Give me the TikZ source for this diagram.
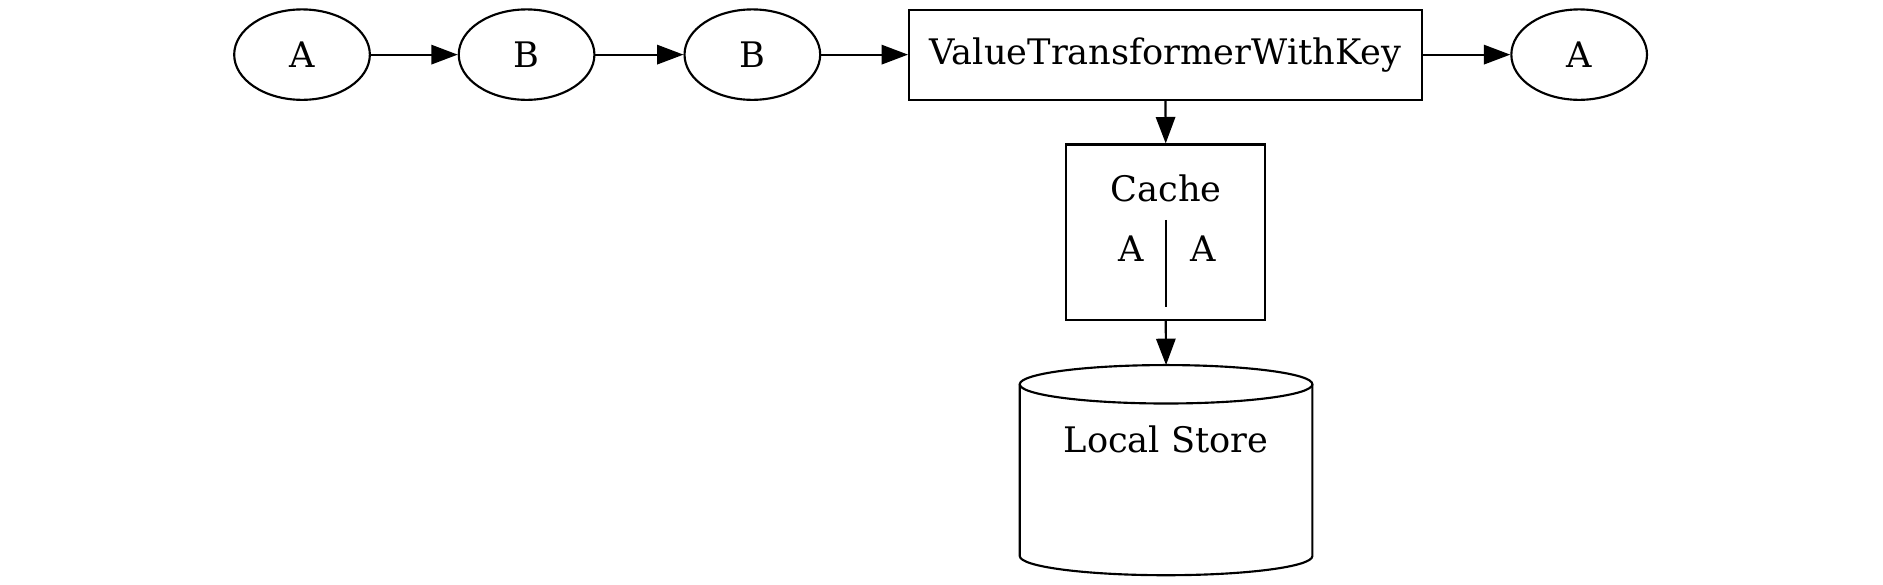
\documentclass[tikz,border=0pt]{standalone}
\usepackage{fontspec}
\setmainfont{DejaVu Serif}
\usetikzlibrary{arrows.meta,shapes.geometric}
\begin{document}
\begin{tikzpicture}[x=0.478pt,y=-0.478pt,
  font=\fontsize{14pt}{17pt}\selectfont,
  line width=0.85pt,
  ell/.style={draw, ellipse, minimum width=54pt, minimum height=36pt, inner sep=0pt},
  boxn/.style={draw, rectangle, inner sep=0pt},
  txt/.style={inner sep=0pt, text height=10pt, text depth=0pt},
  edge/.style={-{Triangle[length=10.5pt,width=7.7pt]}},
]
\useasboundingbox (0,0) rectangle (1568,487);
% top row
\node[ell] (a1) at (251.5,45.5) {A};
\node[ell] (b1) at (438.5,45.5) {B};
\node[ell] (b2) at (626.5,45.5) {B};
\node[boxn, minimum width=204.1pt, minimum height=35.85pt] (vt) at (970.5,45.5) {ValueTransformerWithKey};
\node[ell] (a2) at (1315,45.5) {A};
% cache
\node[boxn, minimum width=79.1pt, minimum height=69.9pt] (cache) at (970.7,193.4) {};
\node[txt] (cachelbl) at (971,157) {Cache};
\node[txt] (ck) at (942,207) {A};
\node[txt] (cv) at (1002,207) {A};
\draw (971,183) -- (971,256);
% store
\node[inner sep=0pt, outer sep=0pt, minimum width=116.5pt, minimum height=83.65pt] (store) at (971,391.5) {};
\draw ([yshift=-7.65pt]store.north) ellipse [x radius=58.25pt, y radius=7.65pt];
\draw ([yshift=-7.65pt]store.north west) -- ([yshift=7.65pt]store.south west)
  arc[start angle=180, end angle=360, x radius=58.25pt, y radius=7.65pt]
  -- ([yshift=-7.65pt]store.north east);
\node[txt] (storelbl) at (971,366) {Local Store};
% edges
\draw[edge] (a1) -- (b1);
\draw[edge] (b1) -- (b2);
\draw[edge] (b2) -- (vt);
\draw[edge] (vt) -- (a2);
\draw[edge] (vt.south) -- (cache.north);
\draw[edge] (cache.south) -- (store.north);
\end{tikzpicture}
\end{document}
